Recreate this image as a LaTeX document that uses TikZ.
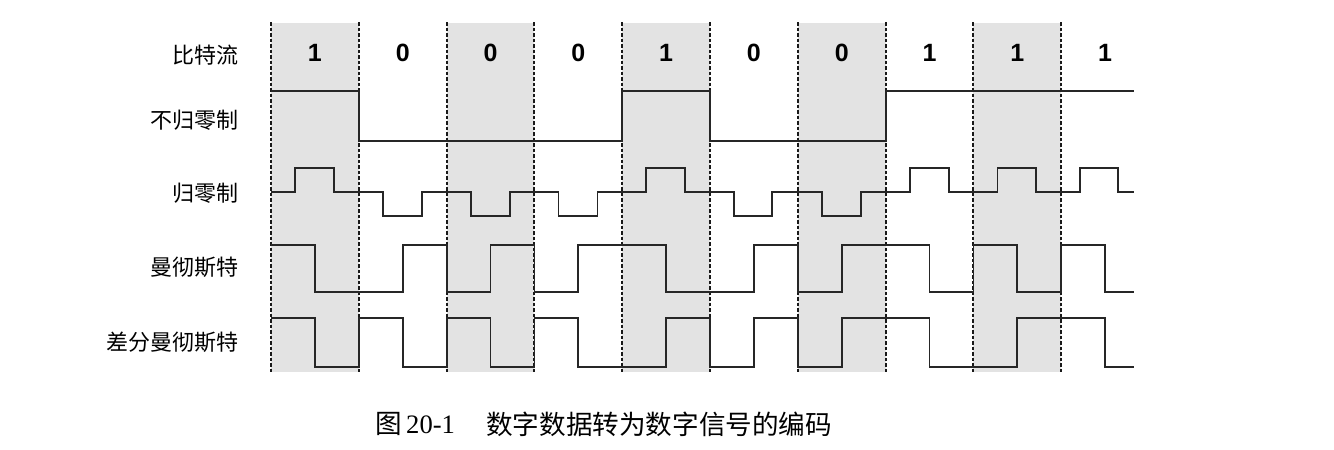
\documentclass[tikz,border=0pt]{standalone}
\usepackage{fontspec}
\setmainfont{Liberation Serif}
\newfontfamily\cjk{Noto Sans CJK SC}
\newfontfamily\arialb{Liberation Sans}
\begin{document}
\begin{tikzpicture}[x=1pt,y=-1pt,
  colshade/.style={fill=gray!22,draw=none},
  divider/.style={line width=2pt,dash pattern=on 3.5pt off 2pt,black!90},
  sig/.style={line width=1.8pt,black!85,line join=miter},
  bitlbl/.style={font=\arialb\bfseries\fontsize{25}{27}\selectfont,inner sep=0pt},
  rowlbl/.style={font=\cjk\fontsize{22}{24}\selectfont,anchor=east,inner sep=0pt},
  captionlbl/.style={font=\fontsize{26.6}{28}\selectfont,anchor=west,inner sep=0pt}]
\useasboundingbox (0,0) rectangle (1334,450);
\fill[white] (0,0) rectangle (1334,450);
% shaded columns
\foreach \s in {271,446.6,622.2,797.8,973.4}
  \fill[colshade] (\s,23) rectangle ({\s+87.8},372);
% dividers
\foreach \s in {271,358.8,446.6,534.4,622.2,710,797.8,885.6,973.4,1061.2}
  \draw[divider] (\s,22) -- (\s,373);
% bit labels
\foreach \b [count=\i from 0] in {1,0,0,0,1,0,0,1,1,1}
  \node[bitlbl] (bit\i) at ({271+87.8*\i+43.9},53) {\b};
% row labels
\node[rowlbl] (l1) at (239,55) {\cjk 比特流};
\node[rowlbl] (l2) at (239,120) {\cjk 不归零制};
\node[rowlbl] (l3) at (239,193) {\cjk 归零制};
\node[rowlbl] (l4) at (239,267) {\cjk 曼彻斯特};
\node[rowlbl] (l5) at (239,342) {\cjk 差分曼彻斯特};
% NRZ
\draw[sig] (271,91) -- (358.8,91) -- (358.8,141) -- (622.2,141) -- (622.2,91) -- (710,91) -- (710,141) -- (885.6,141) -- (885.6,91) -- (1134,91);
% RZ
\draw[sig] (271,192)
  -- (295,192) -- (295,168) -- (334,168) -- (334,192)
  -- (382.8,192) -- (382.8,216) -- (421.8,216) -- (421.8,192)
  -- (470.6,192) -- (470.6,216) -- (509.6,216) -- (509.6,192)
  -- (558.4,192) -- (558.4,216) -- (597.4,216) -- (597.4,192)
  -- (646.2,192) -- (646.2,168) -- (685.2,168) -- (685.2,192)
  -- (734,192) -- (734,216) -- (772,216) -- (772,192)
  -- (821.8,192) -- (821.8,216) -- (860.8,216) -- (860.8,192)
  -- (909.6,192) -- (909.6,168) -- (948.6,168) -- (948.6,192)
  -- (997.4,192) -- (997.4,168) -- (1036,168) -- (1036,192)
  -- (1080,192) -- (1080,168) -- (1118,168) -- (1118,192)
  -- (1134,192);
% Manchester
\draw[sig] (271,245) -- (314.9,245) -- (314.9,292) -- (402.7,292) -- (402.7,245) -- (446.6,245) -- (446.6,292) -- (490.5,292) -- (490.5,245) -- (534.4,245) -- (534.4,292) -- (578.3,292) -- (578.3,245) -- (666.1,245) -- (666.1,292) -- (753.9,292) -- (753.9,245) -- (797.8,245) -- (797.8,292) -- (841.7,292) -- (841.7,245) -- (929.5,245) -- (929.5,292) -- (973.4,292) -- (973.4,245) -- (1017.3,245) -- (1017.3,292) -- (1061.2,292) -- (1061.2,245) -- (1105.1,245) -- (1105.1,292) -- (1134,292);
% Differential Manchester
\draw[sig] (271,318) -- (314.9,318) -- (314.9,367) -- (358.8,367) -- (358.8,318) -- (402.7,318) -- (402.7,367) -- (446.6,367) -- (446.6,318) -- (490.5,318) -- (490.5,367) -- (534.4,367) -- (534.4,318) -- (578.3,318) -- (578.3,367) -- (666.1,367) -- (666.1,318) -- (710,318) -- (710,367) -- (753.9,367) -- (753.9,318) -- (797.8,318) -- (797.8,367) -- (841.7,367) -- (841.7,318) -- (929.5,318) -- (929.5,367) -- (1017.3,367) -- (1017.3,318) -- (1105.1,318) -- (1105.1,367) -- (1134,367);
% caption
\node[captionlbl] (capnum) at (375,424) {{\cjk 图}\,20-1};
\node[captionlbl] (captxt) at (486,424) {\cjk 数字数据转为数字信号的编码};
\end{tikzpicture}
\end{document}
